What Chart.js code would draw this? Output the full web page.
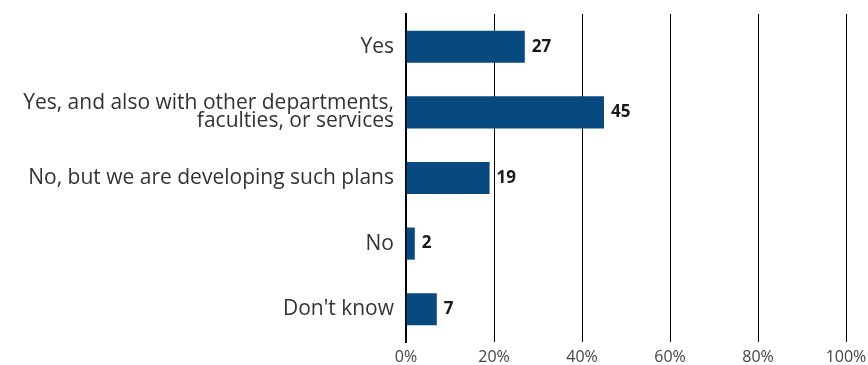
<!DOCTYPE html>
<html>
<head>
<meta charset="utf-8">
<script src="https://cdn.jsdelivr.net/npm/chart.js@4"></script>
<style>
  html, body { margin: 0; padding: 0; background: #fff; }
  #wrap { width: 868px; height: 365px; position: relative; }
</style>
</head>
<body>
<div id="wrap"><canvas id="c"></canvas></div>
<script>
// Survey answers and percentage of respondents
const categories = [
  "Yes",
  ["Yes, and also with other departments,", "faculties, or services"],
  "No, but we are developing such plans",
  "No",
  "Don't know"
];
const values = [27, 45, 19, 2, 7];
const xTicks = [0, 20, 40, 60, 80, 100];

const barColor = "#084a80";
const fontFamily = "'Open Sans', sans-serif";

// Bold value written just past the end of each bar
const valueLabels = {
  id: "valueLabels",
  afterDatasetsDraw(chart) {
    const ctx = chart.ctx;
    const meta = chart.getDatasetMeta(0);
    ctx.save();
    ctx.font = "bold 17px " + fontFamily;
    ctx.fillStyle = "#1a1a1a";
    ctx.textAlign = "left";
    ctx.textBaseline = "middle";
    meta.data.forEach((bar, i) => {
      ctx.fillText(String(values[i]), bar.x + 7, bar.y);
    });
    ctx.restore();
  }
};

new Chart(document.getElementById("c"), {
  type: "bar",
  data: {
    labels: categories,
    datasets: [{
      data: values,
      backgroundColor: barColor,
      borderWidth: 0,
      barPercentage: 1,
      categoryPercentage: 0.49
    }]
  },
  options: {
    indexAxis: "y",
    responsive: true,
    maintainAspectRatio: false,
    animation: false,
    layout: { padding: { top: 14, right: 22, left: 0, bottom: 0 } },
    plugins: {
      legend: { display: false },
      tooltip: { enabled: false }
    },
    scales: {
      x: {
        min: 0,
        max: 100,
        afterBuildTicks(scale) { scale.ticks = xTicks.map(v => ({ value: v })); },
        afterFit(scale) {
          scale.height = 23;
          scale.paddingLeft = 0;
          scale.paddingRight = 0;
        },
        grid: { color: "#000", lineWidth: 1, drawTicks: false },
        border: { display: false },
        ticks: {
          callback: v => v + "%",
          color: "#444",
          padding: 6,
          maxRotation: 0,
          font: { family: fontFamily, size: 16 }
        }
      },
      y: {
        afterFit(scale) {
          scale.width = 406;
          scale.paddingTop = 0;
          scale.paddingBottom = 0;
        },
        grid: { display: false, drawTicks: false },
        border: { display: true, color: "#000", width: 2 },
        ticks: {
          color: "#333",
          padding: 12,
          font: { family: fontFamily, size: 21, lineHeight: 0.86 }
        }
      }
    }
  },
  plugins: [valueLabels]
});
</script>
</body>
</html>
